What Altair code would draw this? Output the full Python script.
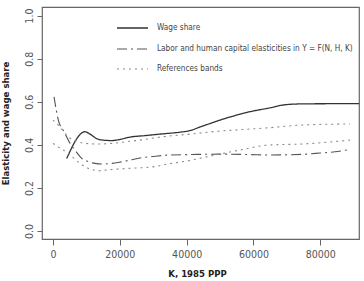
import altair as alt
import pandas as pd

# Wage share
wage_k = [4100, 9580, 11080, 13080, 15570, 17570, 20060, 23050, 27550, 32040,
          38020, 41020, 44010, 47000, 50000, 54490, 58980, 64970, 68860, 73950,
          82930, 91600]
wage_v = [0.337, 0.461, 0.450, 0.429, 0.421, 0.420, 0.425, 0.436, 0.443, 0.450,
          0.459, 0.466, 0.483, 0.499, 0.515, 0.536, 0.554, 0.572, 0.585, 0.590,
          0.591, 0.591]

# Labor and human capital elasticities
elas_k = [300, 1590, 3340, 5090, 6890, 8590, 10480, 12570, 14970, 17570, 20060,
          23050, 26050, 29940, 35030, 41020, 50000, 58980, 64370, 74550, 79940,
          84430, 88920]
elas_v = [0.623, 0.515, 0.460, 0.407, 0.369, 0.337, 0.323, 0.314, 0.311, 0.314,
          0.320, 0.329, 0.339, 0.346, 0.353, 0.355, 0.357, 0.355, 0.353, 0.356,
          0.362, 0.368, 0.379]

# Reference bands (upper and lower)
upper_k = [0, 2100, 4490, 6890, 9580, 13470, 17070, 21560, 26050, 32040, 41020,
           50000, 54490, 64370, 74550, 88920]
upper_v = [0.515, 0.483, 0.438, 0.418, 0.407, 0.404, 0.406, 0.414, 0.422, 0.436,
           0.450, 0.464, 0.469, 0.479, 0.492, 0.497]
lower_k = [0, 2100, 4580, 6890, 9580, 11680, 13560, 17070, 21560, 29940, 35030,
           40120, 47000, 55990, 64370, 74550, 88920]
lower_v = [0.407, 0.385, 0.361, 0.329, 0.298, 0.285, 0.280, 0.285, 0.290, 0.298,
           0.313, 0.325, 0.348, 0.376, 0.399, 0.404, 0.422]

series_names = [
    "Wage share",
    "Labor and human capital elasticities in Y = F(N, H, K)",
    "References bands",
]
x_ticks = [0, 20000, 40000, 60000, 80000]
y_ticks = [0.0, 0.2, 0.4, 0.6, 0.8, 1.0]

FONT = "'Liberation Sans Narrow', 'DejaVu Sans Condensed', sans-serif"

rows = []
for k, v in zip(wage_k, wage_v):
    rows.append({"k": k, "v": v, "series": series_names[0], "part": "wage"})
for k, v in zip(elas_k, elas_v):
    rows.append({"k": k, "v": v, "series": series_names[1], "part": "elas"})
for k, v in zip(upper_k, upper_v):
    rows.append({"k": k, "v": v, "series": series_names[2], "part": "upper"})
for k, v in zip(lower_k, lower_v):
    rows.append({"k": k, "v": v, "series": series_names[2], "part": "lower"})
df = pd.DataFrame(rows)

styles = {
    series_names[0]: {"color": "#333333", "dash": [1, 0], "width": 1.3},
    series_names[1]: {"color": "#555555", "dash": [10, 4, 2, 4], "width": 1.1},
    series_names[2]: {"color": "#8a8a8a", "dash": [2, 4], "width": 1.1},
}
key_rows = [21, 42, 62]

x_scale = alt.Scale(domain=[-3300, 91600], nice=False, zero=False)
y_scale = alt.Scale(domain=[-0.037, 1.04], nice=False, zero=False)

x_enc = alt.X(
    "k:Q",
    scale=x_scale,
    axis=alt.Axis(
        values=x_ticks,
        format="d",
        title="K, 1985 PPP",
        titleY=34,
        titleX=155,
        titleBaseline="middle",
    ),
)
y_enc = alt.Y(
    "v:Q",
    scale=y_scale,
    axis=alt.Axis(
        values=y_ticks,
        format=".1f",
        title="Elasticity and wage share",
        labelAngle=270,
        labelAlign="center",
        labelBaseline="bottom",
        titleAngle=270,
        titleX=-37,
        titleY=116,
        titleAlign="center",
        titleBaseline="middle",
    ),
)

layers = []
for name in series_names:
    st = styles[name]
    sub = df[df["series"] == name]
    layers.append(
        alt.Chart(sub)
        .mark_line(
            color=st["color"],
            strokeDash=st["dash"],
            strokeWidth=st["width"],
            interpolate="monotone",
            clip=True,
        )
        .encode(x=x_enc, y=y_enc, detail="part:N")
    )

# In-plot key: one sample stroke and one label per series
for name, row in zip(series_names, key_rows):
    st = styles[name]
    one = pd.DataFrame({"series": [name]})
    layers.append(
        alt.Chart(one)
        .mark_rule(color=st["color"], strokeDash=st["dash"], strokeWidth=st["width"])
        .encode(x=alt.value(75), x2=alt.value(106), y=alt.value(row))
    )
    layers.append(
        alt.Chart(one)
        .mark_text(align="left", baseline="middle", font=FONT, fontSize=8.2,
                   color="#444444")
        .encode(x=alt.value(115), y=alt.value(row), text="series:N")
    )

chart = (
    alt.layer(*layers)
    .properties(
        width=317,
        height=232,
        autosize=alt.AutoSizeParams(type="none"),
        padding={"left": 42, "top": 7, "right": 5, "bottom": 42},
    )
    .configure_view(stroke="#666666", strokeWidth=1.2)
    .configure_axis(
        domain=False,
        grid=False,
        tickColor="#666666",
        tickSize=6,
        tickWidth=1,
        labelFont=FONT,
        labelFontSize=10.5,
        labelColor="#555555",
        labelPadding=4,
        titleFont=FONT,
        titleFontSize=9.5,
        titleFontWeight="bold",
        titleColor="#222222",
    )
    .configure_axisY(tickSize=5, labelPadding=3)
)

chart.save("out.html", embed_options={"renderer": "svg", "actions": False})
